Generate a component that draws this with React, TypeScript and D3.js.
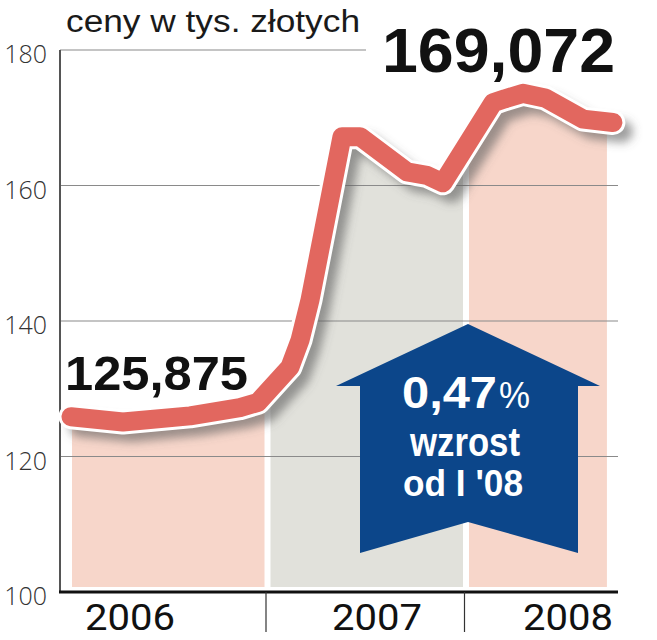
import React from "react";
import * as d3 from "d3";

// ---- data ----
const times = [2006.0, 2006.262, 2006.6, 2006.851, 2006.942, 2007.103, 2007.154, 2007.204, 2007.365, 2007.456, 2007.693, 2007.793, 2007.874, 2008.126, 2008.186, 2008.277, 2008.39, 2008.58, 2008.73];
const prices = [125.875, 125.1, 126.0, 127.2, 128.0, 133.2, 137.2, 143.1, 167.2, 167.2, 162.0, 161.5, 160.4, 172.2, 172.8, 173.6, 172.9, 169.8, 169.3];
const years = [2006, 2007, 2008];
const yTicks = [100, 120, 140, 160, 180];
const bandColors = ["#f7d6ca", "#e1e1db", "#f7d6ca"];
const title = "ceny w tys. złotych";
const firstLabel = "125,875";
const lastLabel = "169,072";
const arrowLines = ["0,47", "%", "wzrost", "od I '08"];

const W = 657;
const H = 640;
const axisLeft = 60;
const axisRight = 618;

export default function App() {
  const x = d3.scaleLinear().domain([2006, 2008]).range([71, 468]);
  const y = d3.scaleLinear().domain([100, 180]).range([592, 50]);
  const pts: [number, number][] = times.map((t, i) => [t, prices[i]]);
  const line = d3
    .line<[number, number]>()
    .x((d) => x(d[0]))
    .y((d) => y(d[1]))
    .curve(d3.curveLinear);
  const area = d3
    .area<[number, number]>()
    .x((d) => x(d[0]))
    .y0(y(100) - 5)
    .y1((d) => y(d[1]));
  const lineD = line(pts) || "";
  const tLast = times[times.length - 1];
  const bands = years.map((yr, i) => {
    const x0 = i === 0 ? x(yr) + 1 : x(yr) + 1;
    const x1 = i === years.length - 1 ? x(tLast) - 6 : x(yr + 1) - 5;
    return { x0, x1, color: bandColors[i] };
  });

  // arrow geometry relative to 2008 start
  const ax = x(2008);
  const tipY = y(140) + 3;
  const wingY = tipY + 62;
  const botY = tipY + 229;
  const notchY = tipY + 198;
  const shaftL = ax - 108;
  const shaftR = ax + 110;
  const wingL = ax - 132;
  const wingR = ax + 132;
  const arrowPts = [
    [ax, tipY],
    [wingR, wingY],
    [shaftR, wingY],
    [shaftR, botY],
    [ax, notchY],
    [shaftL, botY],
    [shaftL, wingY],
    [wingL, wingY],
  ]
    .map((p) => p.join(","))
    .join(" ");

  return (
    <svg
      width={W}
      height={H}
      style={{ position: "absolute", left: 0, top: 0, background: "#fff" }}
    >
      <defs>
        <clipPath id="areaClip">
          <path d={area(pts) || ""} />
        </clipPath>
        <filter id="blur" x="-20%" y="-20%" width="140%" height="140%">
          <feGaussianBlur stdDeviation="5" />
        </filter>
      </defs>

      {/* bands under the line */}
      <g clipPath="url(#areaClip)">
        {bands.map((b, i) => (
          <rect key={i} x={b.x0} y={0} width={b.x1 - b.x0} height={H} fill={b.color} />
        ))}
      </g>

      {/* gridlines */}
      {yTicks
        .filter((v) => v > 100)
        .map((v) => (
          <line
            key={v}
            x1={axisLeft}
            x2={v === 180 ? 366 : axisRight}
            y1={y(v)}
            y2={y(v)}
            stroke="#8a8a8a"
            strokeWidth={1.2}
          />
        ))}

      {/* y axis */}
      <line x1={axisLeft} x2={axisLeft} y1={y(180)} y2={y(100)} stroke="#555" strokeWidth={2} />
      {yTicks.map((v) => (
        <text
          key={v}
          x={47}
          y={y(v) + 13}
          textAnchor="end"
          fontFamily="'Open Sans', sans-serif"
          fontWeight={300}
          fontSize={25}
          fill="#333"
        >
          {v}
        </text>
      ))}

      {/* line shadow, outline, line */}
      <path
        d={lineD}
        transform="translate(9,9)"
        fill="none"
        stroke="#5e5e5e"
        strokeOpacity={0.6}
        strokeWidth={22}
        strokeLinejoin="round"
        strokeLinecap="round"
        filter="url(#blur)"
      />
      <path
        d={lineD}
        fill="none"
        stroke="#fff"
        strokeWidth={25}
        strokeLinejoin="round"
        strokeLinecap="round"
      />
      <path
        d={lineD}
        fill="none"
        stroke="#e2675f"
        strokeWidth={19}
        strokeLinejoin="round"
        strokeLinecap="round"
      />

      {/* arrow */}
      <polygon points={arrowPts} fill="#0c468a" />
      <text
        x={ax + 29}
        y={tipY + 84}
        textAnchor="end"
        fontFamily="'Liberation Sans', Arial, sans-serif"
        fontWeight={700}
        fontSize={44}
        fill="#fff"
        textLength={95}
        lengthAdjust="spacingAndGlyphs"
      >
        {arrowLines[0]}
      </text>
      <text
        x={ax + 31}
        y={tipY + 84}
        fontFamily="'Liberation Sans', Arial, sans-serif"
        fontWeight={400}
        fontSize={36}
        fill="#fff"
        textLength={31}
        lengthAdjust="spacingAndGlyphs"
      >
        {arrowLines[1]}
      </text>
      <text
        x={ax - 58}
        y={tipY + 132}
        fontFamily="'Liberation Sans', Arial, sans-serif"
        fontWeight={700}
        fontSize={41}
        fill="#fff"
        textLength={110}
        lengthAdjust="spacingAndGlyphs"
      >
        {arrowLines[2]}
      </text>
      <text
        x={ax - 65}
        y={tipY + 172}
        fontFamily="'Liberation Sans', Arial, sans-serif"
        fontWeight={700}
        fontSize={36}
        fill="#fff"
        textLength={120}
        lengthAdjust="spacingAndGlyphs"
      >
        {arrowLines[3]}
      </text>

      {/* bottom axis */}
      <line x1={axisLeft - 1} x2={axisRight} y1={y(100)} y2={y(100)} stroke="#111" strokeWidth={3} />
      {years.slice(1).map((yr) => (
        <line
          key={yr}
          x1={x(yr) - 3.5}
          x2={x(yr) - 3.5}
          y1={y(100)}
          y2={y(100) + 40}
          stroke="#333"
          strokeWidth={1.2}
        />
      ))}
      {years.map((yr, i) => {
        const cx = [130, 377, 568][i];
        return (
          <text
            key={yr}
            x={cx}
            y={630}
            textAnchor="middle"
            fontFamily="Roboto, sans-serif"
            fontSize={37}
            fill="#111"
            textLength={90}
            lengthAdjust="spacingAndGlyphs"
          >
            {yr}
          </text>
        );
      })}

      {/* titles and value labels */}
      <text
        x={66}
        y={32}
        fontFamily="'Liberation Sans', Arial, sans-serif"
        fontSize={31}
        fill="#1a1a1a"
        textLength={294}
        lengthAdjust="spacingAndGlyphs"
      >
        {title}
      </text>
      <text
        x={382}
        y={72}
        fontFamily="'Liberation Sans', Arial, sans-serif"
        fontWeight={700}
        fontSize={63}
        fill="#111"
        textLength={233}
        lengthAdjust="spacingAndGlyphs"
      >
        {lastLabel}
      </text>
      <text
        x={65}
        y={390}
        fontFamily="'Liberation Sans', Arial, sans-serif"
        fontWeight={700}
        fontSize={49}
        fill="#111"
        textLength={183}
        lengthAdjust="spacingAndGlyphs"
      >
        {firstLabel}
      </text>
    </svg>
  );
}
